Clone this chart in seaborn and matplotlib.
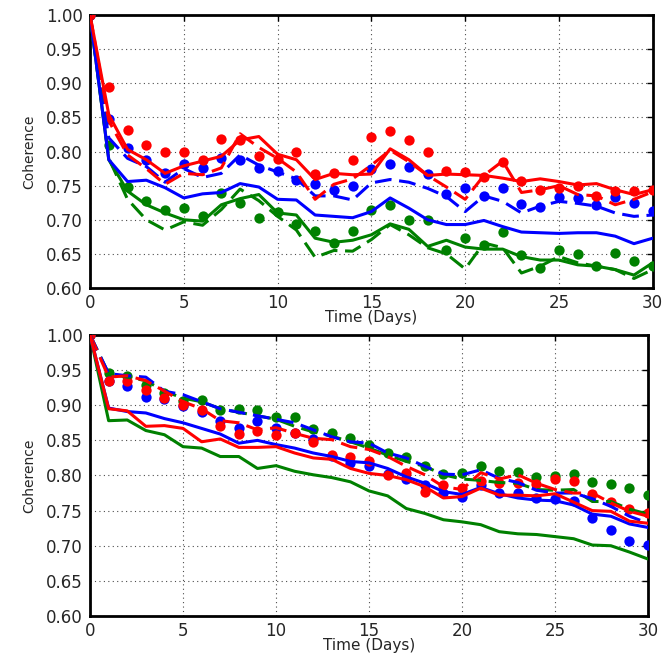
import numpy as np
import pandas as pd
import matplotlib
matplotlib.use("Agg")
import matplotlib.pyplot as plt
import seaborn as sns

days = list(range(31))

# ---- top panel ----
top_red_solid = [1.0, 0.854, 0.803, 0.788, 0.768, 0.779, 0.786, 0.793, 0.817, 0.822, 0.796, 0.788, 0.759,
                 0.768, 0.766, 0.767, 0.804, 0.788, 0.765, 0.767, 0.766, 0.765, 0.761, 0.756, 0.760, 0.756,
                 0.751, 0.753, 0.744, 0.737, 0.744]
top_red_dash = [1.0, 0.845, 0.795, 0.775, 0.752, 0.768, 0.766, 0.776, 0.826, 0.806, 0.790, 0.770, 0.730,
                0.752, 0.760, 0.780, 0.802, 0.785, 0.765, 0.748, 0.730, 0.765, 0.786, 0.740, 0.744, 0.750,
                0.737, 0.735, 0.722, 0.730, 0.741]
top_red_dot = [1.0, 0.895, 0.831, 0.810, 0.799, 0.800, 0.788, 0.818, 0.817, 0.794, 0.789, 0.799, 0.767,
               0.768, 0.788, 0.822, 0.830, 0.817, 0.799, 0.772, 0.770, 0.762, 0.785, 0.757, 0.743, 0.747,
               0.749, 0.735, 0.742, 0.742, 0.743]
top_blue_solid = [1.0, 0.788, 0.756, 0.758, 0.747, 0.732, 0.738, 0.740, 0.753, 0.748, 0.730, 0.729, 0.707,
                  0.705, 0.703, 0.712, 0.732, 0.717, 0.700, 0.693, 0.693, 0.699, 0.690, 0.682, 0.681, 0.680,
                  0.681, 0.681, 0.676, 0.665, 0.673]
top_blue_dash = [1.0, 0.820, 0.790, 0.778, 0.755, 0.775, 0.762, 0.768, 0.795, 0.780, 0.770, 0.760, 0.735,
                 0.735, 0.729, 0.754, 0.759, 0.755, 0.746, 0.734, 0.712, 0.735, 0.727, 0.710, 0.720, 0.727,
                 0.724, 0.720, 0.710, 0.705, 0.707]
top_blue_dot = [1.0, 0.848, 0.805, 0.787, 0.769, 0.782, 0.776, 0.791, 0.788, 0.776, 0.771, 0.759, 0.753,
                0.743, 0.750, 0.774, 0.782, 0.777, 0.767, 0.738, 0.746, 0.735, 0.746, 0.723, 0.719, 0.734,
                0.732, 0.722, 0.734, 0.724, 0.713]
top_green_solid = [1.0, 0.788, 0.742, 0.722, 0.710, 0.700, 0.698, 0.722, 0.731, 0.737, 0.710, 0.707, 0.673,
                   0.667, 0.670, 0.678, 0.694, 0.686, 0.661, 0.670, 0.660, 0.657, 0.657, 0.646, 0.641, 0.641,
                   0.634, 0.632, 0.627, 0.619, 0.637]
top_green_dash = [1.0, 0.790, 0.730, 0.700, 0.685, 0.697, 0.692, 0.715, 0.745, 0.728, 0.705, 0.685, 0.645,
                  0.655, 0.654, 0.671, 0.693, 0.678, 0.659, 0.650, 0.628, 0.666, 0.659, 0.622, 0.632, 0.646,
                  0.637, 0.632, 0.627, 0.614, 0.627]
top_green_dot = [1.0, 0.809, 0.748, 0.727, 0.715, 0.717, 0.705, 0.739, 0.724, 0.703, 0.712, 0.694, 0.683,
                 0.666, 0.683, 0.715, 0.721, 0.699, 0.699, 0.655, 0.673, 0.663, 0.682, 0.649, 0.629, 0.655,
                 0.650, 0.633, 0.652, 0.640, 0.632]

# ---- bottom panel ----
bot_red_solid = [1.0, 0.895, 0.892, 0.870, 0.871, 0.867, 0.848, 0.852, 0.840, 0.840, 0.841, 0.832, 0.825,
                 0.823, 0.810, 0.803, 0.800, 0.794, 0.784, 0.768, 0.770, 0.782, 0.772, 0.772, 0.771, 0.774,
                 0.762, 0.750, 0.749, 0.735, 0.732]
bot_red_dash = [1.0, 0.940, 0.942, 0.935, 0.920, 0.905, 0.895, 0.878, 0.875, 0.865, 0.868, 0.860, 0.853,
                0.851, 0.841, 0.837, 0.827, 0.813, 0.801, 0.784, 0.780, 0.804, 0.795, 0.801, 0.789, 0.780,
                0.775, 0.775, 0.761, 0.749, 0.742]
bot_red_dot = [1.0, 0.935, 0.935, 0.922, 0.910, 0.901, 0.893, 0.871, 0.859, 0.863, 0.857, 0.860, 0.848,
               0.829, 0.827, 0.820, 0.800, 0.804, 0.777, 0.786, 0.782, 0.792, 0.790, 0.790, 0.788, 0.795,
               0.792, 0.774, 0.762, 0.752, 0.747]
bot_blue_solid = [1.0, 0.896, 0.891, 0.889, 0.881, 0.875, 0.867, 0.859, 0.846, 0.850, 0.844, 0.839, 0.832,
                  0.827, 0.820, 0.818, 0.810, 0.798, 0.789, 0.777, 0.773, 0.783, 0.774, 0.768, 0.765, 0.764,
                  0.758, 0.745, 0.742, 0.731, 0.726]
bot_blue_dash = [1.0, 0.945, 0.942, 0.940, 0.920, 0.915, 0.905, 0.895, 0.890, 0.885, 0.880, 0.875, 0.865,
                 0.855, 0.848, 0.846, 0.832, 0.825, 0.813, 0.802, 0.801, 0.808, 0.796, 0.790, 0.779, 0.775,
                 0.775, 0.767, 0.756, 0.742, 0.732]
bot_blue_dot = [1.0, 0.934, 0.927, 0.912, 0.909, 0.899, 0.891, 0.877, 0.867, 0.878, 0.867, 0.861, 0.852,
                0.828, 0.818, 0.814, 0.802, 0.795, 0.787, 0.775, 0.770, 0.786, 0.775, 0.775, 0.768, 0.767,
                0.763, 0.739, 0.722, 0.707, 0.701]
bot_green_solid = [1.0, 0.878, 0.879, 0.864, 0.858, 0.841, 0.839, 0.827, 0.827, 0.810, 0.814, 0.806, 0.801,
                   0.797, 0.791, 0.778, 0.771, 0.753, 0.746, 0.737, 0.734, 0.730, 0.720, 0.717, 0.716, 0.713,
                   0.710, 0.701, 0.700, 0.691, 0.681]
bot_green_dash = [1.0, 0.945, 0.940, 0.935, 0.920, 0.910, 0.905, 0.895, 0.890, 0.885, 0.880, 0.870, 0.862,
                  0.856, 0.848, 0.839, 0.829, 0.820, 0.813, 0.801, 0.795, 0.793, 0.790, 0.789, 0.780, 0.779,
                  0.780, 0.763, 0.763, 0.752, 0.745]
bot_green_dot = [1.0, 0.946, 0.941, 0.929, 0.918, 0.906, 0.908, 0.893, 0.895, 0.893, 0.883, 0.883, 0.866,
                 0.860, 0.853, 0.844, 0.832, 0.827, 0.813, 0.802, 0.803, 0.814, 0.806, 0.805, 0.798, 0.799,
                 0.802, 0.791, 0.788, 0.782, 0.772]

x_ticks = [0, 5, 10, 15, 20, 25, 30]
y_ticks = [0.60, 0.65, 0.70, 0.75, 0.80, 0.85, 0.90, 0.95, 1.00]

sns.set_theme(style="white")
plt.rcParams["font.family"] = ["DejaVu Sans"]

fig = plt.figure(figsize=(6.62, 6.54), dpi=100)
ax_top = fig.add_axes([0.136, 0.5596, 0.850, 0.4174])
ax_bot = fig.add_axes([0.136, 0.0581, 0.843, 0.4297])

colors = {"red": "#ff0000", "blue": "#0000ff", "green": "#008000"}

panels = [
    (ax_top, {"red": (top_red_solid, top_red_dash, top_red_dot),
              "blue": (top_blue_solid, top_blue_dash, top_blue_dot),
              "green": (top_green_solid, top_green_dash, top_green_dot)}),
    (ax_bot, {"red": (bot_red_solid, bot_red_dash, bot_red_dot),
              "blue": (bot_blue_solid, bot_blue_dash, bot_blue_dot),
              "green": (bot_green_solid, bot_green_dash, bot_green_dot)}),
]

for ax, series in panels:
    for cname in ["green", "blue", "red"]:
        solid, dash, dot = series[cname]
        c = colors[cname]
        sns.scatterplot(x=days, y=dot, ax=ax, color=c, s=55, linewidth=0, zorder=3)
        sns.lineplot(x=days, y=dash, ax=ax, color=c, lw=2.2, zorder=4)
        ax.lines[-1].set_linestyle((0, (5.5, 2.5)))
        sns.lineplot(x=days, y=solid, ax=ax, color=c, lw=2.2, zorder=5)

    ax.set_xlim(0, 30)
    ax.set_ylim(0.60, 1.00)
    ax.set_xticks(x_ticks)
    ax.set_yticks(y_ticks)
    ax.set_yticklabels([f"{v:.2f}" for v in y_ticks])
    ax.set_xlabel("Time (Days)", fontsize=11, labelpad=-1)
    ax.set_ylabel("Coherence", fontsize=10, labelpad=7)
    ax.tick_params(axis="both", labelsize=12, direction="in", length=4, width=1,
                   top=True, right=True, color="black")
    ax.tick_params(axis="x", pad=4)
    ax.tick_params(axis="y", pad=5)
    ax.grid(True, color="black", linestyle=(0, (1, 3)), linewidth=0.8, alpha=0.7)
    ax.set_axisbelow(False)
    for sp in ax.spines.values():
        sp.set_visible(True)
        sp.set_color("black")
        sp.set_linewidth(2)
    ax.set_facecolor("white")

fig.savefig("out.png", dpi=100, facecolor="white")
